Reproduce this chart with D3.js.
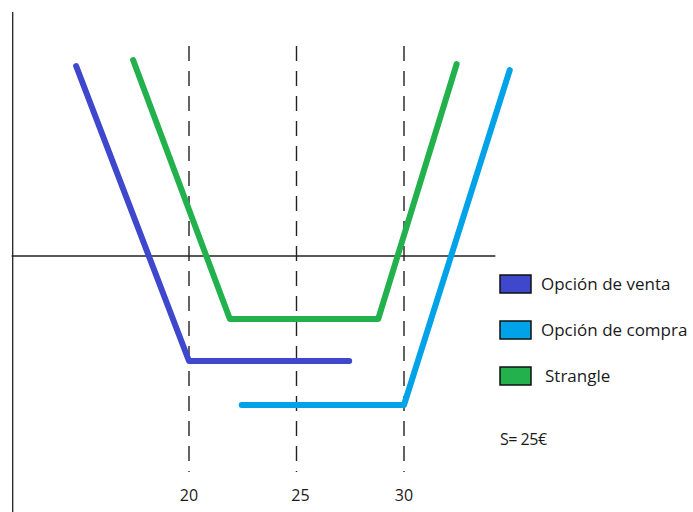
<!DOCTYPE html>
<html>
<head>
<meta charset="utf-8">
<script src="https://cdn.jsdelivr.net/npm/d3@7"></script>
<style>
  body { margin: 0; background: #fff; }
  svg { display: block; }
  text { font-family: "Open Sans", sans-serif; fill: #1a1a1a; }
</style>
</head>
<body>
<div id="chart"></div>
<script>
// strike prices shown on the axis
const strikes = [20, 25, 30]
const strike_labels = ["20", "25", "30"]

// payoff polylines: [price, payoff]
const put_payoff = [[14.75, 9.5], [20, -5.25], [27.45, -5.25]]
const call_payoff = [[22.45, -7.45], [30, -7.45], [34.92, 9.3]]
const strangle_payoff = [[17.4, 9.8], [21.9, -3.15], [28.8, -3.15], [32.45, 9.6]]

const legend_labels = ["Opción de venta", "Opción de compra", "Strangle"]
const legend_colors = ["#3f48cc", "#00a2e8", "#22b14c"]
const spot_note = "S= 25€"

const width = 693, height = 512

let x = d3.scaleLinear().domain([20, 30]).range([189, 404])
let y = d3.scaleLinear().domain([0, 10]).range([256, 56])

let svg = d3.select("#chart").append("svg")
    .attr("width", width)
    .attr("height", height)

// axes
svg.append("line")
    .attr("x1", x(11.8)).attr("x2", x(11.8))
    .attr("y1", 12).attr("y2", height)
    .attr("stroke", "#222").attr("stroke-width", 1.3)
svg.append("line")
    .attr("x1", x(11.75)).attr("x2", x(34.25))
    .attr("y1", y(0)).attr("y2", y(0))
    .attr("stroke", "#222").attr("stroke-width", 1.3)

// dashed strike lines
svg.selectAll(".strike")
    .data(strikes)
    .enter().append("line")
    .attr("class", "strike")
    .attr("x1", d => x(d)).attr("x2", d => x(d))
    .attr("y1", 46).attr("y2", 472)
    .attr("stroke", "#222").attr("stroke-width", 1.4)
    .attr("stroke-dasharray", "15,10")

svg.selectAll(".strike-label")
    .data(strikes)
    .enter().append("text")
    .attr("class", "strike-label")
    .attr("x", (d, i) => x(d) + (i === 1 ? 4 : 0))
    .attr("y", 501)
    .attr("text-anchor", "middle")
    .style("font-size", "16px")
    .text((d, i) => strike_labels[i])

// payoff lines
let line = d3.line().x(d => x(d[0])).y(d => y(d[1]))
let series = [put_payoff, call_payoff, strangle_payoff]

svg.selectAll(".payoff")
    .data(series)
    .enter().append("path")
    .attr("class", "payoff")
    .attr("d", line)
    .attr("fill", "none")
    .attr("stroke", (d, i) => legend_colors[i])
    .attr("stroke-width", 6)
    .attr("stroke-linecap", "round")
    .attr("stroke-linejoin", "round")

// legend
let legend = svg.selectAll(".legend")
    .data(legend_labels)
    .enter().append("g")
    .attr("class", "legend")
    .attr("transform", (d, i) => "translate(500," + (275 + i * 46) + ")")

legend.append("rect")
    .attr("width", 31).attr("height", 18)
    .attr("fill", (d, i) => legend_colors[i])
    .attr("stroke", "#111").attr("stroke-width", 1.5)

legend.append("text")
    .attr("x", (d, i) => i === 2 ? 45 : 41)
    .attr("y", 15)
    .style("font-size", "17px")
    .text(d => d)

svg.append("text")
    .attr("x", 500)
    .attr("y", 445)
    .style("font-size", "16px")
    .style("letter-spacing", "-0.5px")
    .text(spot_note)
</script>
</body>
</html>
